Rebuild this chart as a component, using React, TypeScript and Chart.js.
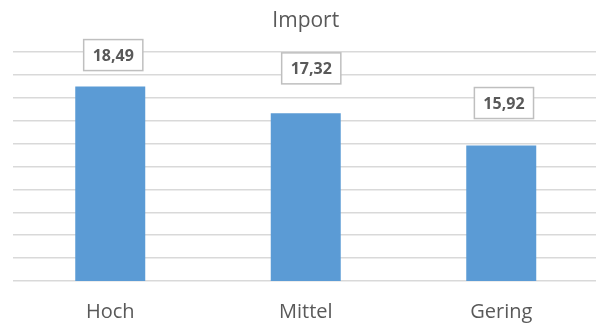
import React, { useEffect, useRef } from "react";
import { Chart, registerables } from "chart.js";

Chart.register(...registerables);

const categories: string[] = ["Hoch", "Mittel", "Gering"];
const importValues: number[] = [18.49, 17.32, 15.92];
const chartTitle = "Import";
const yMin = 10;
const yMax = 20;
const yStep = 1;

const FONT = "'Open Sans', 'Noto Sans', sans-serif";

const fmt = (v: number) => v.toFixed(2).replace(".", ",");

const labelBoxPlugin = {
  id: "labelBoxes",
  afterDatasetsDraw(chart: any, _args: any, opts: any) {
    const ctx = chart.ctx as CanvasRenderingContext2D;
    const meta = chart.getDatasetMeta(0);
    const offsets: { dx: number; dy: number }[] = opts.offsets || [];
    ctx.save();
    ctx.font = `bold 16px ${FONT}`;
    ctx.textAlign = "center";
    ctx.textBaseline = "middle";
    meta.data.forEach((el: any, i: number) => {
      const v = chart.data.datasets[0].data[i] as number;
      const text = fmt(v);
      const off = offsets[i] || { dx: 0, dy: 40 };
      const cx = el.x + off.dx;
      const cy = el.y - off.dy;
      const w = ctx.measureText(text).width + 18;
      const h = 31;
      ctx.fillStyle = "#ffffff";
      ctx.fillRect(cx - w / 2, cy - h / 2, w, h);
      ctx.strokeStyle = "#bfbfbf";
      ctx.lineWidth = 1.5;
      ctx.strokeRect(cx - w / 2, cy - h / 2, w, h);
      ctx.fillStyle = "#595959";
      ctx.fillText(text, cx, cy + 1);
    });
    ctx.restore();
  },
};

export default function App() {
  const ref = useRef<HTMLCanvasElement | null>(null);

  useEffect(() => {
    if (!ref.current) return;
    const chart = new Chart(ref.current, {
      type: "bar",
      data: {
        labels: categories,
        datasets: [
          {
            label: chartTitle,
            data: importValues,
            backgroundColor: "#5b9bd5",
            borderWidth: 0,
            barPercentage: 1,
            categoryPercentage: 0.358,
          },
        ],
      },
      options: {
        animation: false,
        responsive: true,
        maintainAspectRatio: false,
        layout: { padding: { left: 12.5, right: 0, top: 8, bottom: 0 } },
        plugins: {
          legend: { display: false },
          tooltip: { enabled: false },
          title: {
            display: true,
            text: chartTitle,
            color: "#595959",
            font: { family: FONT, size: 21, weight: "normal" as any },
            padding: { top: 0, bottom: 18.8 },
          },
          labelBoxes: {
            offsets: [
              { dx: 3, dy: 31.5 },
              { dx: 5.5, dy: 45 },
              { dx: 2.7, dy: 42.4 },
            ],
          },
        } as any,
        scales: {
          x: {
            afterFit: (s: any) => {
              s.height = 42;
            },
            grid: { display: false, drawTicks: false },
            border: { display: false },
            ticks: {
              color: "#595959",
              font: { family: FONT, size: 20 },
              padding: 19,
              maxRotation: 0,
            },
          },
          y: {
            min: yMin,
            max: yMax,
            afterFit: (s: any) => {
              s.width = 0;
            },
            ticks: { display: false, stepSize: yStep },
            grid: { color: "#d9d9d9", lineWidth: 1.5, drawTicks: false },
            border: { display: false },
          },
        },
      },
      plugins: [labelBoxPlugin],
    });
    return () => chart.destroy();
  }, []);

  return (
    <div
      style={{
        position: "fixed",
        left: 0,
        top: 0,
        width: 596,
        height: 323,
        overflow: "hidden",
        background: "#ffffff",
      }}
    >
      <div style={{ position: "relative", width: 599, height: 323 }}>
        <canvas ref={ref} />
      </div>
    </div>
  );
}
